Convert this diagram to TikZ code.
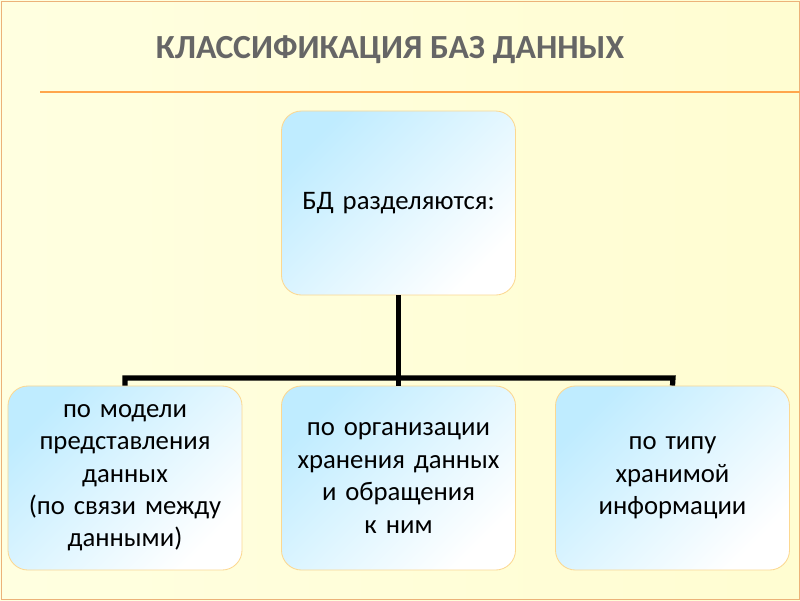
\documentclass[tikz,border=0pt]{standalone}
\usepackage{fontspec}
\setmainfont{Carlito}
\begin{document}
\begin{tikzpicture}[x=0.025cm,y=-0.025cm,
  box/.style={draw=yellow!30!orange!40, line width=0.6pt, rounded corners=0.5cm,
    top color=blue!30!cyan!25, bottom color=white, shading angle=45,
    minimum width=5.85cm, minimum height=4.6cm, text width=5.6cm, inner sep=0.1cm,
    align=center, font=\fontsize{19}{23}\selectfont},
  conn/.style={line width=1.3mm, black}]
\useasboundingbox (0,0) rectangle (800,600);
\shade[left color=yellow!12, right color=orange!10!yellow!18] (0,0) rectangle (800,600);
\draw[orange!50!brown!60, line width=0.4pt] (1,1) rectangle (799,599);
\node (title) at (390,50) {\fontsize{24}{30}\selectfont\bfseries\color{black!60}КЛАССИФИКАЦИЯ БАЗ ДАННЫХ};
\coordinate (l1) at (40,92); \coordinate (l2) at (800,92);
\draw[orange!70, line width=0.8pt] (l1) -- (l2);
\node[box] (top) at (398.5,203) {БД разделяются:};
\node[box] (b1) at (125,478) {по модели\\представления\\данных\\(по связи между\\данными)};
\node[box] (b2) at (398.5,478) {по организации\\хранения данных\\и обращения к ним};
\node[box] (b3) at (672.5,478) {по типу\\хранимой\\информации};
\coordinate (j) at (398.5,378);
\draw[conn] (top.south) -- (j);
\draw[conn] (b1.north) -- (125,378) -- (673,378) -- (b3.north);
\draw[conn] (j) -- (b2.north);
\end{tikzpicture}
\end{document}
